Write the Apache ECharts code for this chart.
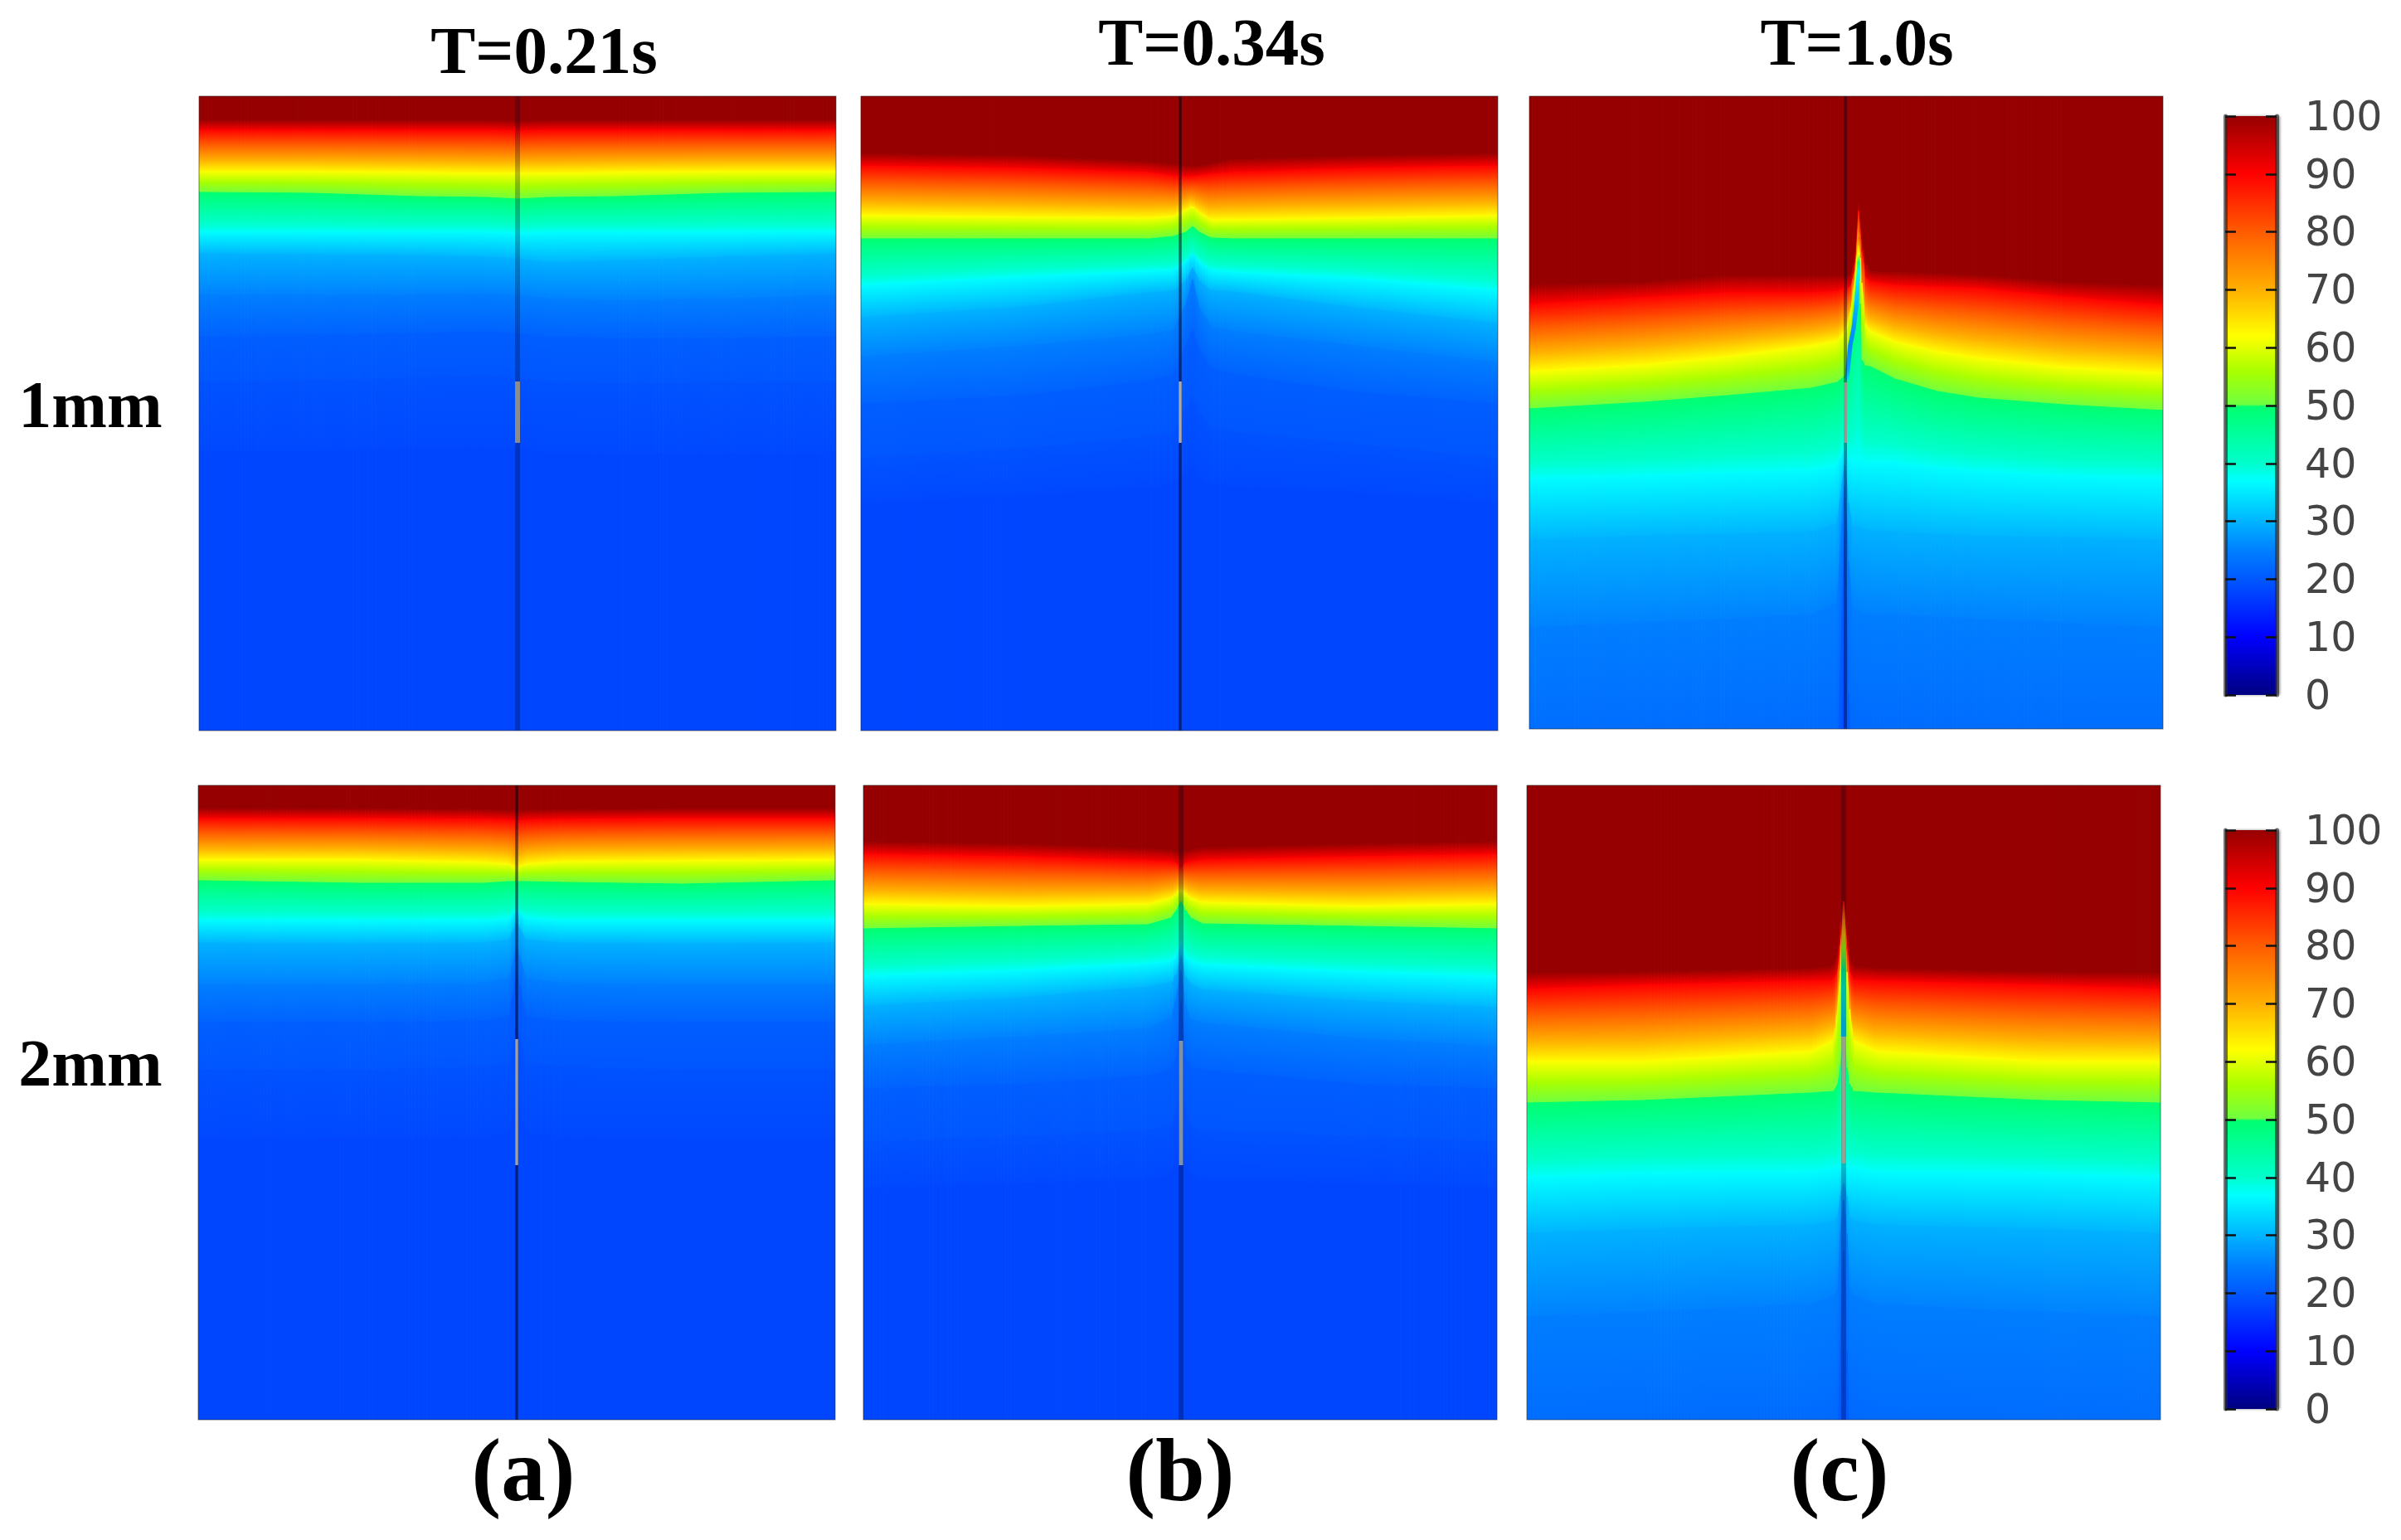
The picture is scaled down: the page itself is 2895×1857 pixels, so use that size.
<!DOCTYPE html>
<html lang="en">
<head>
<meta charset="UTF-8">
<title>T field</title>
<script src="https://cdn.jsdelivr.net/npm/echarts@6/dist/echarts.min.js"></script>
<style>html,body{margin:0;background:#fff}#main{width:2895px;height:1857px}</style>
</head>
<body>
<div id="main"></div>
<script>
// isotherm levels, depths below are per level, per station
var levels = [100, 90, 62, 50, 37, 30, 25, 21, 19.5, 18];
var colormapValues = [100, 90, 80, 70, 62, 56, 50.2, 49.8, 40, 37, 30, 25, 20, 10, 0];
var colormapColors = ['#960000', '#ff0000', '#ff5c00', '#ffb000', '#ffff00', '#aaff00', '#70ff40', '#00ff70', '#00ffcc', '#00ffff', '#00b4ff', '#0080ff', '#0058ff', '#0000ff', '#000080'];
var barTicks = [0, 10, 20, 30, 40, 50, 60, 70, 80, 90, 100];
var columnTitles = ['T=0.21s', 'T=0.34s', 'T=1.0s'];
var rowTitles = ['1mm', '2mm'];
var columnTags = ['(a)', '(b)', '(c)'];

var a1Stations = [-384, -250, -120, -40, 0, 40, 120, 250, 384];
var a1Depths = [
  [29, 29, 29, 29, 30, 29, 29, 29, 29],
  [41, 41, 41, 41, 42, 41, 41, 41, 41],
  [91, 91, 92, 93, 93, 93, 92, 91, 91],
  [116, 117, 121, 122, 124, 122, 121, 117, 116],
  [164, 164, 164, 164, 165, 164, 164, 164, 164],
  [190, 191, 192, 194, 196, 200, 198, 194, 190],
  [240, 240, 239, 238, 240, 244, 246, 244, 240],
  [290, 288, 286, 284, 286, 290, 292, 292, 290],
  [345, 343, 340, 338, 340, 345, 347, 346, 345],
  [430, 428, 425, 423, 425, 430, 432, 431, 430]
];

var b1Stations = [-385, -190, -38, -8, 7, 15, 23, 37, 63, 215, 383];
var b1Depths = [
  [69, 72, 79, 82, 84, 84, 84, 82, 76, 72, 69],
  [84, 87, 92, 96, 97, 97, 96, 94, 92, 87, 84],
  [144, 146, 147, 145, 137, 133, 140, 149, 149, 147, 144],
  [172, 172, 172, 169, 164, 157, 164, 171, 172, 172, 172],
  [228, 218, 211, 210, 200, 190, 200, 210, 212, 220, 234],
  [267, 254, 237, 235, 222, 207, 222, 234, 236, 255, 274],
  [314, 301, 287, 282, 250, 221, 255, 277, 283, 301, 321],
  [371, 361, 343, 335, 300, 281, 305, 327, 335, 357, 371],
  [437, 425, 411, 405, 375, 361, 380, 398, 405, 420, 437],
  [490, 482, 472, 468, 455, 445, 458, 468, 470, 478, 490]
];

var c1Stations = [-381, -243, -142, -41, -10, -1, 4, 8, 12, 14, 16, 18, 20, 24, 30, 60, 111, 161, 263, 383];
var c1Depths = [
  [227, 224, 216, 216, 216, 216, 216, 214, 190, 165, 128, 145, 170, 200, 211, 212, 214, 216, 224, 229],
  [251, 243, 237, 237, 235, 232, 232, 226, 205, 180, 138, 160, 185, 218, 224, 228, 230, 232, 242, 252],
  [332, 324, 314, 301, 295, 285, 272, 250, 215, 195, 180, 195, 225, 275, 283, 296, 308, 316, 327, 334],
  [377, 369, 361, 352, 345, 338, 328, 300, 265, 240, 215, 250, 318, 325, 326, 341, 356, 364, 372, 379],
  [461, 458, 454, 451, 445, 424, 436, 440, 440, 440, 440, 440, 441, 441, 442, 442, 448, 452, 458, 461],
  [535, 530, 528, 525, 515, 445, 490, 518, 518, 518, 518, 520, 520, 522, 523, 525, 528, 530, 532, 535],
  [640, 635, 630, 625, 610, 470, 560, 615, 618, 620, 620, 622, 622, 623, 624, 625, 628, 630, 635, 640],
  [850, 845, 840, 830, 820, 530, 720, 815, 820, 820, 820, 825, 825, 825, 828, 830, 835, 840, 845, 850],
  [1000, 1000, 1000, 1000, 1000, 640, 900, 1000, 1000, 1000, 1000, 1000, 1000, 1000, 1000, 1000, 1000, 1000, 1000, 1000],
  [1200, 1200, 1200, 1200, 1200, 800, 1100, 1200, 1200, 1200, 1200, 1200, 1200, 1200, 1200, 1200, 1200, 1200, 1200, 1200]
];

var a2Stations = [-384, -190, -40, -9, 0, 11, 56, 200, 384];
var a2Depths = [
  [28, 28, 29, 30, 31, 30, 29, 28, 28],
  [40, 40, 41, 42, 43, 42, 41, 40, 40],
  [90, 90, 93, 95, 100, 95, 92, 91, 90],
  [115, 118, 118, 116, 116, 116, 117, 119, 115],
  [163, 163, 163, 161, 150, 160, 163, 163, 163],
  [190, 191, 190, 186, 166, 186, 190, 191, 190],
  [240, 240, 238, 232, 196, 232, 238, 240, 240],
  [286, 286, 284, 278, 226, 278, 284, 286, 286],
  [343, 343, 340, 335, 285, 335, 340, 343, 343],
  [426, 426, 424, 420, 380, 420, 424, 426, 426]
];

var b2Stations = [-383, -193, -40, -12, -5, 0, 5, 12, 26, 214, 383];
var b2Depths = [
  [68, 71, 76, 78, 80, 83, 80, 78, 75, 71, 68],
  [83, 86, 91, 92, 94, 100, 94, 92, 90, 86, 83],
  [143, 146, 143, 136, 130, 126, 130, 136, 141, 146, 143],
  [173, 170, 168, 160, 150, 140, 150, 160, 167, 170, 173],
  [230, 223, 215, 212, 206, 190, 206, 212, 216, 225, 231],
  [266, 256, 243, 238, 226, 206, 230, 240, 246, 260, 268],
  [313, 303, 293, 280, 253, 223, 266, 282, 286, 305, 315],
  [366, 360, 350, 342, 326, 260, 326, 340, 343, 360, 366],
  [430, 424, 416, 410, 390, 326, 390, 410, 416, 424, 430],
  [486, 480, 476, 470, 450, 393, 450, 470, 476, 480, 486]
];

var c2Stations = [-383, -243, -40, -12, -7, -4, 0, 4, 7, 12, 40, 240, 383];
var c2Depths = [
  [226, 225, 221, 218, 205, 170, 142, 170, 205, 218, 221, 225, 226],
  [246, 241, 236, 235, 225, 195, 148, 195, 225, 235, 236, 241, 246],
  [333, 333, 321, 308, 270, 225, 195, 225, 270, 308, 321, 333, 333],
  [383, 380, 371, 369, 360, 340, 300, 340, 360, 369, 371, 380, 383],
  [473, 468, 466, 462, 462, 461, 460, 461, 462, 462, 466, 468, 473],
  [540, 535, 530, 525, 520, 495, 480, 495, 520, 525, 530, 535, 540],
  [640, 635, 625, 615, 605, 540, 500, 540, 605, 615, 625, 635, 640],
  [850, 840, 830, 815, 790, 680, 560, 680, 790, 815, 830, 840, 850],
  [1000, 1000, 1000, 1000, 1000, 900, 680, 900, 1000, 1000, 1000, 1000, 1000],
  [1200, 1200, 1200, 1200, 1200, 1100, 900, 1100, 1200, 1200, 1200, 1200, 1200]
];

// cold core inside the opened crack, panels c only
var c1CoreDepth = [170, 190, 200, 211, 254, 280, 300, 329, 342];
var c1CoreOffset = [16.5, 16.5, 16, 16, 13, 10, 6, 3, 2];
var c1CoreTemp = [82, 62, 48, 37, 30, 27, 26, 28, 34];
var c1CoreHalf = [0.4, 0.8, 1.4, 1.8, 2.4, 2.4, 2.4, 2.4, 2];
var c2CoreDepth = [140, 163, 180, 196, 223, 243, 290, 303];
var c2CoreOffset = [0, 0, 0, 0, 0, 0, 0, 0];
var c2CoreTemp = [90, 75, 68, 55, 47, 40, 33, 33];
var c2CoreHalf = [0.8, 1.5, 2, 2.5, 3, 3, 3, 3];

// depth of the grey crack segment per panel
var crackTop = [344, 344, 345, 306, 308, 303];
var crackBottom = [418, 418, 418, 458, 458, 456];

var panels = [
  {left: 240, right: 1008, top: 116, bottom: 881, mid: 624, st: a1Stations, de: a1Depths, line: 6, lineA: 0.27, grey: 6, greyC: '#8c8c8c'},
  {left: 1038, right: 1806, top: 116, bottom: 881, mid: 1423, st: b1Stations, de: b1Depths, line: 3.5, lineA: 0.55, grey: 3.5, greyC: '#aaaaaa'},
  {left: 1844, right: 2608, top: 116, bottom: 879, mid: 2225, st: c1Stations, de: c1Depths, line: 4, lineA: 0.4, grey: 4, greyC: '#8f9a94',
    core: {d: c1CoreDepth, x: c1CoreOffset, t: c1CoreTemp, w: c1CoreHalf}},
  {left: 239, right: 1007, top: 947, bottom: 1712, mid: 623, st: a2Stations, de: a2Depths, line: 3.5, lineA: 0.55, grey: 3.5, greyC: '#a0a0a0'},
  {left: 1041, right: 1805, top: 947, bottom: 1712, mid: 1424, st: b2Stations, de: b2Depths, line: 6, lineA: 0.3, grey: 5, greyC: '#7f93a8'},
  {left: 1841, right: 2605, top: 947, bottom: 1712, mid: 2223, st: c2Stations, de: c2Depths, line: 6, lineA: 0.25, grey: 5, greyC: '#9aa08f',
    core: {d: c2CoreDepth, x: c2CoreOffset, t: c2CoreTemp, w: c2CoreHalf}}
];
var bars = [{top: 140, height: 698}, {top: 1001, height: 698}];

function rgb(hex) {
  return [parseInt(hex.substr(1, 2), 16), parseInt(hex.substr(3, 2), 16), parseInt(hex.substr(5, 2), 16)];
}
function colorAt(v) {
  for (var i = 0; i < colormapValues.length - 1; i++) {
    if (v <= colormapValues[i] && v >= colormapValues[i + 1]) {
      var t = (colormapValues[i] - v) / (colormapValues[i] - colormapValues[i + 1]);
      var a = rgb(colormapColors[i]), b = rgb(colormapColors[i + 1]);
      return 'rgb(' + Math.round(a[0] + (b[0] - a[0]) * t) + ',' + Math.round(a[1] + (b[1] - a[1]) * t) + ',' + Math.round(a[2] + (b[2] - a[2]) * t) + ')';
    }
  }
  return colormapColors[0];
}
function grad(c0, c1) {
  return new echarts.graphic.LinearGradient(0, 0, 0, 1, [{offset: 0, color: c0}, {offset: 1, color: c1}]);
}

var DEEP = 1500;
function depthOf(de, j, i) {
  if (j === 0) return 0;
  if (j > de.length) return DEEP;
  return de[j - 1][i];
}
// colour stops of one band, the colour map's own stops included
function bandFill(j) {
  if (j === 0) return colormapColors[0];
  if (j === levels.length) return colorAt(levels[j - 1]);
  var vt = levels[j - 1] - 0.2, vb = levels[j] + 0.2;
  var stops = [{offset: 0, color: colorAt(vt)}];
  colormapValues.forEach(function (v, i) {
    if (v < vt && v > vb) stops.push({offset: (vt - v) / (vt - vb), color: colormapColors[i]});
  });
  stops.push({offset: 1, color: colorAt(vb)});
  return new echarts.graphic.LinearGradient(0, 0, 0, 1, stops);
}

// one quad between two stations and two isotherms, cut in thin slices so the gradient follows the slope
function meshItem(st, de) {
  return function (params, api) {
    var i = api.value(0), j = api.value(1);
    var a0 = api.coord([st[i], depthOf(de, j, i)]), a1 = api.coord([st[i + 1], depthOf(de, j, i + 1)]);
    var b0 = api.coord([st[i], depthOf(de, j + 1, i)]), b1 = api.coord([st[i + 1], depthOf(de, j + 1, i + 1)]);
    var n = Math.max(1, Math.ceil((a1[0] - a0[0]) / 4));
    var kids = [];
    var fill = bandFill(j);
    for (var k = 0; k < n; k++) {
      var s = k / n, e = (k + 1) / n;
      var x0 = a0[0] + (a1[0] - a0[0]) * s, x1 = a0[0] + (a1[0] - a0[0]) * e;
      kids.push({
        type: 'polygon',
        shape: {points: [
          [x0, a0[1] + (a1[1] - a0[1]) * s], [x1, a0[1] + (a1[1] - a0[1]) * e],
          [x1, b0[1] + (b1[1] - b0[1]) * e], [x0, b0[1] + (b1[1] - b0[1]) * s]
        ]},
        style: {fill: fill, stroke: fill, lineWidth: 1}
      });
    }
    return {type: 'group', children: kids};
  };
}
function coreItem(core) {
  return function (params, api) {
    var i = api.value(0);
    var p = function (x, d) { return api.coord([x, d]); };
    var fill = grad(colorAt(core.t[i]), colorAt(core.t[i + 1]));
    return {
      type: 'polygon',
      shape: {points: [
        p(core.x[i] - core.w[i], core.d[i]), p(core.x[i] + core.w[i], core.d[i]),
        p(core.x[i + 1] + core.w[i + 1], core.d[i + 1]), p(core.x[i + 1] - core.w[i + 1], core.d[i + 1])
      ]},
      style: {fill: fill, stroke: fill, lineWidth: 0.5}
    };
  };
}

var option = {animation: false, backgroundColor: '#fff', grid: [], xAxis: [], yAxis: [], series: [], title: []};

panels.forEach(function (pn, k) {
  var h = pn.bottom - pn.top;
  option.grid.push({left: pn.left, width: pn.right - pn.left, top: pn.top, height: h});
  option.xAxis.push({type: 'value', gridIndex: k, min: pn.left - pn.mid, max: pn.right - pn.mid, show: false});
  option.yAxis.push({type: 'value', gridIndex: k, min: 0, max: h, inverse: true, show: false});
  var cells = [];
  for (var i = 0; i < pn.st.length - 1; i++) {
    for (var j = 0; j <= levels.length; j++) cells.push([i, j]);
  }
  option.series.push({type: 'custom', xAxisIndex: k, yAxisIndex: k, silent: true, clip: true, z: 1,
    renderItem: meshItem(pn.st, pn.de), data: cells});
  if (pn.core) {
    var segs = pn.core.d.slice(1).map(function (d, i) { return [i, d]; });
    option.series.push({type: 'custom', xAxisIndex: k, yAxisIndex: k, silent: true, clip: true, z: 2,
      renderItem: coreItem(pn.core), data: segs});
  }
  // dark crack trace over the whole panel, grey notch on top of it
  option.series.push({type: 'line', xAxisIndex: k, yAxisIndex: k, silent: true, symbol: 'none', z: 3,
    data: [[0, 0], [0, h]], lineStyle: {color: 'rgba(0,0,30,' + pn.lineA + ')', width: pn.line}});
  option.series.push({type: 'line', xAxisIndex: k, yAxisIndex: k, silent: true, symbol: 'none', z: 4,
    data: [[0, crackTop[k]], [0, crackBottom[k]]], lineStyle: {color: pn.greyC, width: pn.grey, cap: 'butt'}});
  option.series.push({type: 'line', xAxisIndex: k, yAxisIndex: k, silent: true, symbol: 'none', z: 5, clip: false,
    data: [[pn.left - pn.mid, 0], [pn.right - pn.mid, 0], [pn.right - pn.mid, h], [pn.left - pn.mid, h], [pn.left - pn.mid, 0]],
    lineStyle: {color: 'rgba(40,40,40,0.3)', width: 2}});
});

bars.forEach(function (b, n) {
  var g = panels.length + n;
  var xi = option.xAxis.length, yi = option.yAxis.length;
  option.grid.push({left: 2683, width: 62, top: b.top, height: b.height});
  option.xAxis.push({type: 'category', gridIndex: g, data: ['T'], show: false});
  var tick = {show: true, inside: true, length: 13, lineStyle: {color: '#111', width: 2.5}};
  var axisLine = {show: true, lineStyle: {color: 'rgba(40,40,40,0.65)', width: 5}};
  option.yAxis.push({type: 'value', gridIndex: g, min: 0, max: 100, interval: 10, position: 'left', z: 10,
    axisLine: axisLine, axisTick: tick, axisLabel: {show: false}, splitLine: {show: false}});
  option.yAxis.push({type: 'value', gridIndex: g, min: 0, max: 100, interval: 10, position: 'right', z: 10,
    axisLine: axisLine, axisTick: tick, splitLine: {show: false},
    axisLabel: {show: true, margin: 34, align: 'left', customValues: barTicks, hideOverlap: false,
      formatter: '{n|{value}}',
      rich: {n: {fontFamily: 'DejaVu Sans', fontSize: 49, color: '#444', padding: [8, 0, 0, 0]}}}});
  var stops = colormapValues.map(function (v, i) { return {offset: (100 - v) / 100, color: colormapColors[i]}; });
  option.series.push({type: 'bar', xAxisIndex: xi, yAxisIndex: yi, silent: true, barWidth: '100%', z: 2,
    data: [100],
    itemStyle: {color: new echarts.graphic.LinearGradient(0, 0, 0, 1, stops),
      shadowColor: 'rgba(0,0,0,0.45)', shadowBlur: 3, shadowOffsetX: 4}});
});

function serifLabel(text, x, y, size) {
  return {text: text, left: x, top: y, textAlign: 'center', textVerticalAlign: 'middle',
    textStyle: {fontFamily: 'Liberation Serif', fontWeight: 'bold', fontSize: size, color: '#000'}};
}
var titleX = [651, 1456, 2234], titleY = [62, 52, 52];
columnTitles.forEach(function (t, i) { option.title.push(serifLabel(t, titleX[i], titleY[i], 81)); });
var rowY = [489, 1283];
rowTitles.forEach(function (t, i) { option.title.push(serifLabel(t, 104, rowY[i], 80)); });
var tagX = [626, 1418, 2213];
columnTags.forEach(function (t, i) { option.title.push(serifLabel(t, tagX[i], 1776, 107)); });

var chart = echarts.init(document.getElementById('main'));
chart.setOption(option);
</script>
</body>
</html>
